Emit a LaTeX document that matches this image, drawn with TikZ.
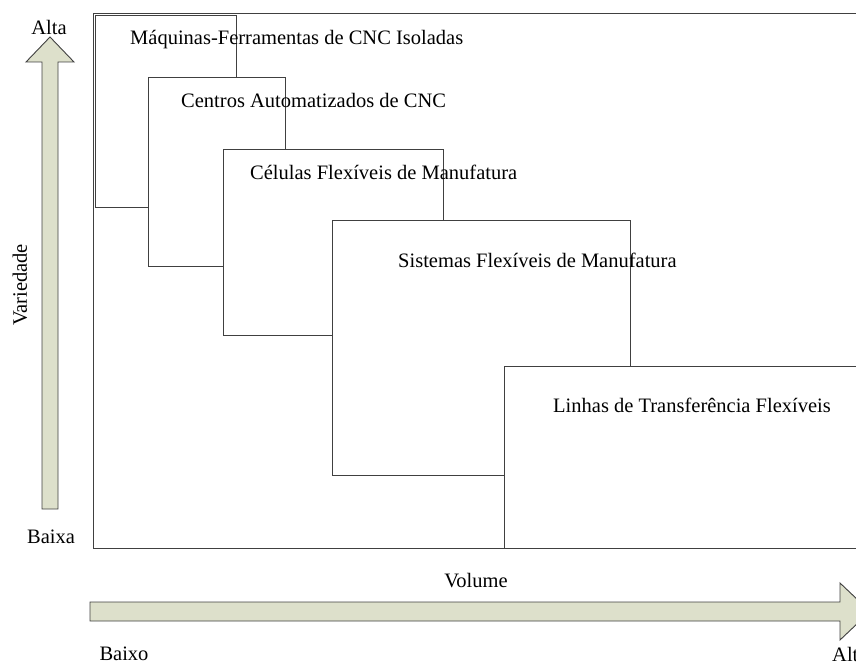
\documentclass[tikz,border=0pt]{standalone}
\usepackage{fontspec}
\setmainfont{Liberation Serif}
\definecolor{seta}{RGB}{221,224,203}
\definecolor{linha}{RGB}{64,64,64}

\begin{document}
\begin{tikzpicture}[x=1pt,y=-1pt,
    caixa/.style={draw=linha,line width=0.9pt,fill=white},
    rotulo/.style={inner sep=0pt,anchor=base west,font=\fontsize{20.5}{24}\selectfont},
    eixo/.style={inner sep=0pt,anchor=base,font=\fontsize{20.5}{24}\selectfont},
    flecha/.style={draw=linha,line width=0.9pt,fill=seta}]
    \useasboundingbox (0,0) rectangle (856,668);
    \clip (0,0) rectangle (856,668);
    % moldura
    \draw[caixa] (93,13) rectangle (880,548);
    % caixas
    \draw[caixa] (95,15) rectangle (236,207);
    \node[rotulo] (maq) at (130,45) {Máquinas-Ferramentas de CNC Isoladas};
    \draw[caixa] (148,77) rectangle (285,266);
    \node[rotulo] (cen) at (181,108) {Centros Automatizados de CNC};
    \draw[caixa] (223,149) rectangle (443,335);
    \node[rotulo] (cel) at (250,180) {Células Flexíveis de Manufatura};
    \draw[caixa] (332,220) rectangle (630,475);
    \node[rotulo] (sis) at (398,268) {Sistemas Flexíveis de Manufatura};
    \draw[caixa] (504,366) rectangle (880,548);
    \node[rotulo] (lin) at (553,412) {Linhas de Transferência Flexíveis};
    % eixos
    \draw[flecha] (42,509) -- (42,62) -- (26,62) -- (50,37) -- (74,62) -- (58,62) -- (58,509) -- cycle;
    \draw[flecha] (90,602) -- (840,602) -- (840,583) -- (870,611.5) -- (840,640) -- (840,621) -- (90,621) -- cycle;
    \node[eixo] (alta) at (49,35) {Alta};
    \node[eixo] (baixa) at (51,543) {Baixa};
    \node[rotate=90,inner sep=0pt,font=\fontsize{20.5}{24}\selectfont] (var) at (20,285) {Variedade};
    \node[eixo] (vol) at (476,587) {Volume};
    \node[eixo] (baixo) at (124,660) {Baixo};
    \node[rotulo] (alto) at (832,661) {Alto};
\end{tikzpicture}
\end{document}
